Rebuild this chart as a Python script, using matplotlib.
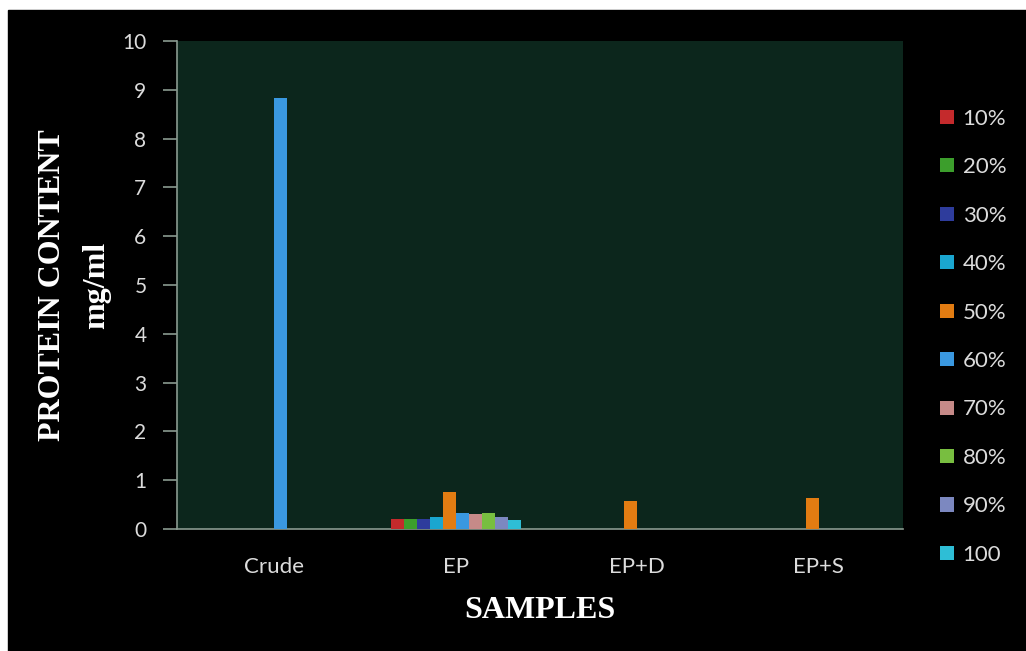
import numpy as np
import matplotlib.pyplot as plt
from matplotlib.patches import Rectangle

# protein content (mg/ml) of each sample, one list per saturation fraction
samples = ['Crude', 'EP', 'EP+D', 'EP+S']
fractions = ['10%', '20%', '30%', '40%', '50%', '60%', '70%', '80%', '90%', '100']
p10 = [0, 0.20, 0, 0]
p20 = [0, 0.21, 0, 0]
p30 = [0, 0.20, 0, 0]
p40 = [0, 0.25, 0, 0]
p50 = [0, 0.76, 0.57, 0.64]
p60 = [8.83, 0.33, 0, 0]
p70 = [0, 0.30, 0, 0]
p80 = [0, 0.33, 0, 0]
p90 = [0, 0.25, 0, 0]
p100 = [0, 0.18, 0, 0]
values = [p10, p20, p30, p40, p50, p60, p70, p80, p90, p100]

colors = ['#c42a2c', '#3c9e2c', '#2e3c9c', '#1aa6d0', '#e27c12',
          '#3a98e0', '#c68a88', '#78be40', '#7c88c0', '#2ebed6']

fig = plt.figure(figsize=(10.26, 6.51), dpi=100)
fig.patch.set_facecolor('white')
# black panel behind the whole chart
fig.patches.append(Rectangle((8 / 1026, 0), 1, 1 - 10 / 651,
                             transform=fig.transFigure, color='black', zorder=-5))

ax = fig.add_axes([177 / 1026, 1 - 529 / 651, (903 - 177) / 1026, (529 - 41) / 651])
ax.set_facecolor('#0c261c')

x = np.arange(len(samples))
bw = 0.0716
for i, (vals, c) in enumerate(zip(values, colors)):
    off = (i - 4.5) * bw
    ax.bar(x + off, vals, width=bw, color=c, edgecolor='none', linewidth=0,
           label=fractions[i], zorder=3)

ax.set_xlim(-0.535, 3.465)
ax.set_ylim(0, 10)
ax.set_yticks(range(0, 11))
ax.set_xticks(x)
ax.set_xticklabels(samples)

for s in ['top', 'right']:
    ax.spines[s].set_visible(False)
for s in ['left', 'bottom']:
    ax.spines[s].set_color('#8a9a90')
    ax.spines[s].set_linewidth(1.2)

ax.tick_params(axis='y', colors='#8a9a90', labelcolor='#dcdcdc', length=10,
               width=1.2, labelsize=15, pad=12)
ax.tick_params(axis='x', length=0, labelcolor='#dcdcdc', labelsize=16, pad=20)
for lab in ax.get_xticklabels() + ax.get_yticklabels():
    lab.set_fontfamily('Lato')

ax.set_ylabel('PROTEIN CONTENT\nmg/ml', fontsize=23, fontweight='bold',
              fontfamily='Liberation Serif', color='white', labelpad=8,
              linespacing=1.68)
ax.set_xlabel('SAMPLES', fontsize=23, fontweight='bold',
              fontfamily='Liberation Serif', color='white', labelpad=14)

leg = ax.legend(loc='upper left', bbox_to_anchor=(1.024, 0.902), frameon=False,
                handlelength=0.6, handleheight=0.6, handletextpad=0.4,
                labelspacing=1.28, prop={'family': 'Lato', 'size': 16})
for t in leg.get_texts():
    t.set_color('#dcdcdc')

fig.savefig('out.png', dpi=100, facecolor=fig.get_facecolor())
